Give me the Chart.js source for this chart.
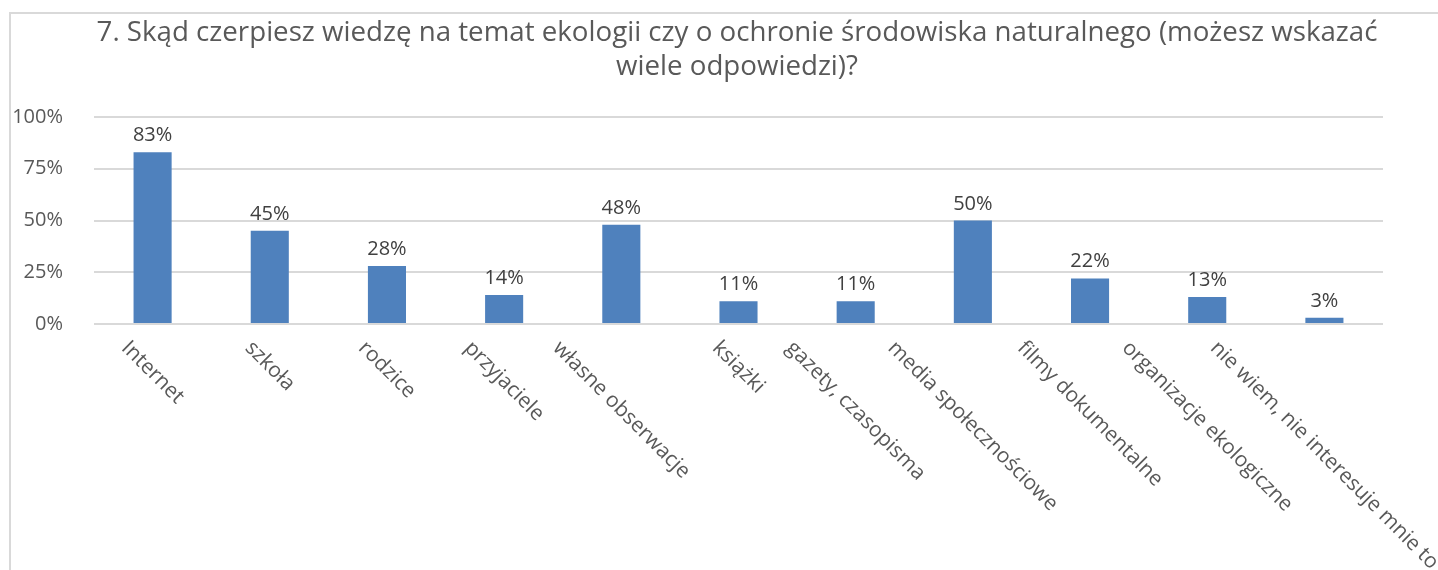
<!DOCTYPE html>
<html lang="pl">
<head>
<meta charset="UTF-8">
<title>Skąd czerpiesz wiedzę na temat ekologii</title>
<script src="https://cdn.jsdelivr.net/npm/chart.js"></script>
<style>
  html, body { margin: 0; padding: 0; background: #fff; }
  canvas { display: block; }
</style>
</head>
<body>
<canvas id="ekoChart" width="1438" height="570"></canvas>
<script>
// chart data
const titleLines = [
    "7. Skąd czerpiesz wiedzę na temat ekologii czy o ochronie środowiska naturalnego (możesz wskazać",
    "wiele odpowiedzi)?"
];
const categories = [
    "Internet", "szkoła", "rodzice", "przyjaciele", "własne obserwacje", "książki",
    "gazety, czasopisma", "media społecznościowe", "filmy dokumentalne",
    "organizacje ekologiczne", "nie wiem, nie interesuje mnie to"
];
const percents = [83, 45, 28, 14, 48, 11, 11, 50, 22, 13, 3];
const yMin = 0;
const yMax = 100;
const yStep = 25;

const FONT = "'Open Sans', 'Noto Sans', sans-serif";
const gridGray = "#d9d9d9";
const textGray = "#595959";

// white background + the grey chart frame (cut off right and bottom)
const framePlugin = {
    id: "frame",
    beforeDraw(chart) {
        const c = chart.ctx;
        c.save();
        c.fillStyle = "#fff";
        c.fillRect(0, 0, chart.width, chart.height);
        c.strokeStyle = gridGray;
        c.lineWidth = 2;
        c.beginPath();
        c.moveTo(chart.width, 13);
        c.lineTo(10, 13);
        c.lineTo(10, chart.height);
        c.stroke();
        c.restore();
    }
};

// two line title, centred like the excel one
const titlePlugin = {
    id: "excelTitle",
    afterDraw(chart) {
        const c = chart.ctx;
        c.save();
        c.fillStyle = textGray;
        c.font = "27.7px " + FONT;
        c.textAlign = "center";
        c.textBaseline = "alphabetic";
        c.fillText(titleLines[0], 737, 41);
        c.fillText(titleLines[1], 737, 75);
        c.restore();
    }
};

// "83%" above each bar
const valuePlugin = {
    id: "values",
    afterDatasetsDraw(chart) {
        const c = chart.ctx;
        const meta = chart.getDatasetMeta(0);
        c.save();
        c.fillStyle = "#404040";
        c.font = "20px " + FONT;
        c.textAlign = "center";
        c.textBaseline = "alphabetic";
        meta.data.forEach((bar, i) => {
            c.fillText(percents[i] + "%", bar.x, bar.y - 11);
        });
        c.restore();
    }
};

// category labels turned 45deg clockwise, centred on the tick
const catLabelPlugin = {
    id: "catLabels",
    afterDraw(chart) {
        const c = chart.ctx;
        const xs = chart.scales.x;
        const top = chart.chartArea.bottom + 15;
        c.save();
        c.fillStyle = textGray;
        c.font = "21px " + FONT;
        c.textAlign = "center";
        c.textBaseline = "middle";
        categories.forEach((lab, i) => {
            const w = c.measureText(lab).width;
            const x = xs.getPixelForValue(i);
            const y = top + Math.SQRT1_2 * (w + 16) / 2;
            c.save();
            c.translate(x, y);
            c.rotate(Math.PI / 4);
            c.fillText(lab, 0, 0);
            c.restore();
        });
        c.restore();
    }
};

function draw() {
    const ctx = document.getElementById("ekoChart").getContext("2d");
    new Chart(ctx, {
        type: "bar",
        data: {
            labels: categories,
            datasets: [{
                data: percents,
                backgroundColor: "#4f81bd",
                borderWidth: 0,
                barPercentage: 0.325,
                categoryPercentage: 1
            }]
        },
        options: {
            responsive: false,
            devicePixelRatio: 1,
            animation: false,
            layout: { padding: { top: 117, right: 55, left: 0, bottom: 0 } },
            plugins: {
                legend: { display: false },
                title: { display: false },
                tooltip: { enabled: false }
            },
            scales: {
                x: {
                    ticks: { display: false },
                    grid: { display: false },
                    border: { display: false },
                    afterFit(s) { s.height = 246; }
                },
                y: {
                    min: yMin,
                    max: yMax,
                    ticks: {
                        stepSize: yStep,
                        padding: 31,
                        color: textGray,
                        font: { family: FONT, size: 20 },
                        callback: v => v + "%"
                    },
                    grid: { color: gridGray, lineWidth: 2, drawTicks: false },
                    border: { display: false },
                    afterFit(s) { s.width = 94; }
                }
            }
        },
        plugins: [framePlugin, titlePlugin, valuePlugin, catLabelPlugin]
    });
}

if (document.fonts && document.fonts.load) {
    document.fonts.load("20px 'Open Sans'").then(draw, draw);
} else {
    draw();
}
</script>
</body>
</html>
